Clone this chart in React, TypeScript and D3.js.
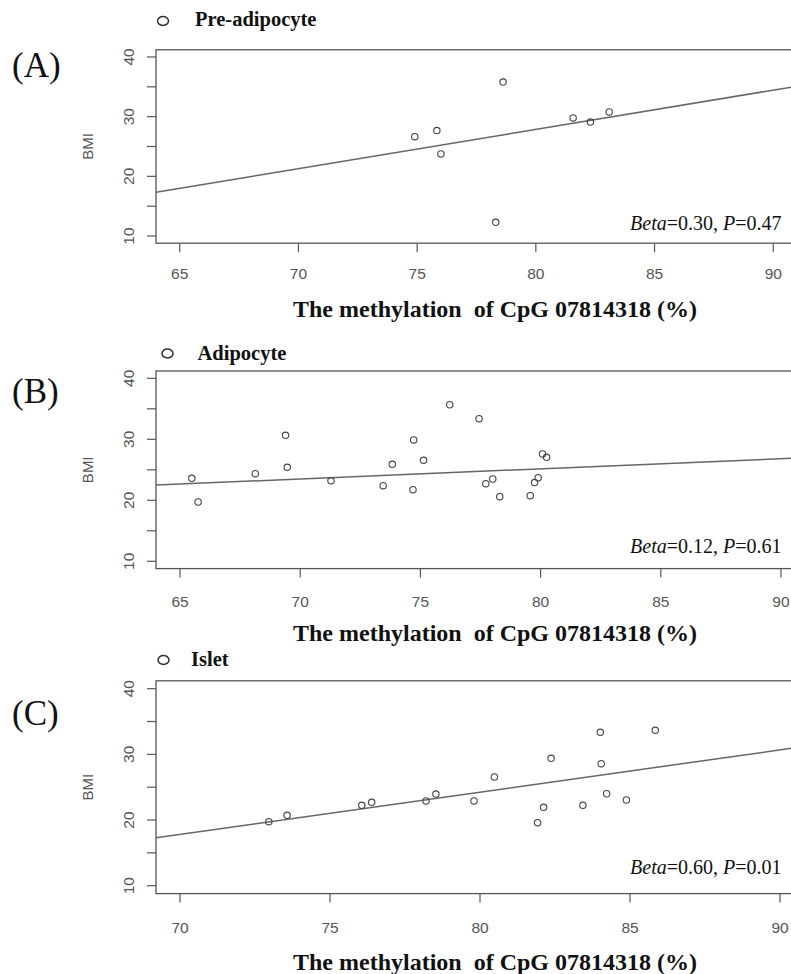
import * as d3 from "d3";

// methylation (%) and BMI
const preAdipocyteMeth = [74.9, 75.83, 76.0, 78.62, 78.31, 81.57, 82.3, 83.09];
const preAdipocyteBMI = [26.65, 27.66, 23.75, 35.8, 12.3, 29.78, 29.1, 30.79];

const adipocyteMeth = [65.49, 65.75, 68.13, 69.39, 69.46, 71.28, 73.45, 73.83, 74.72, 75.13, 74.69,
  76.22, 77.44, 77.72, 78.01, 78.3, 79.57, 79.75, 79.9, 80.08, 80.25];
const adipocyteBMI = [23.6, 19.72, 24.36, 30.66, 25.4, 23.2, 22.4, 25.9, 29.9, 26.56, 21.74,
  35.67, 33.38, 22.72, 23.49, 20.6, 20.75, 22.9, 23.7, 27.6, 27.05];

const isletMeth = [72.96, 73.57, 76.06, 76.39, 78.2, 78.53, 79.8, 80.48, 81.92, 82.12, 82.37,
  83.43, 84.01, 84.04, 84.22, 84.88, 85.84];
const isletBMI = [19.75, 20.72, 22.24, 22.7, 22.9, 23.96, 22.9, 26.55, 19.6, 21.94, 29.4,
  22.24, 33.36, 28.58, 24.0, 23.05, 33.66];

const panelTags = ["(A)", "(B)", "(C)"];
const cellNames = ["Pre-adipocyte", "Adipocyte", "Islet"];
const fitIntercepts = [-24.77, 11.88, -27.28];
const fitSlopes = [0.658, 0.166, 0.644];
const betas = ["0.30", "0.12", "0.60"];
const pValues = ["0.47", "0.61", "0.01"];

const xTicksByPanel = [
  [65, 70, 75, 80, 85, 90],
  [65, 70, 75, 80, 85, 90],
  [70, 75, 80, 85, 90],
];
const xDomains = [[64, 91], [64, 91], [69.2, 90.8]];
const yTicks = [10, 15, 20, 25, 30, 35, 40];
const yTickLabels = [10, 20, 30, 40];
const xTitle = "The methylation  of CpG 07814318 (%)";

const meths = [preAdipocyteMeth, adipocyteMeth, isletMeth];
const bmis = [preAdipocyteBMI, adipocyteBMI, isletBMI];

// pixel layout of each panel (the plot boxes run past the right edge, as in the figure)
const layout = [
  { left: 156, right: 797, top: 49.8, bottom: 243.2, legendY: 21, legendX: 163, nameX: 195, nameY: 26,
    tagY: 77, annY: 230, tickLabY: 278.5, titleY: 316.5 },
  { left: 156, right: 805, top: 371, bottom: 568.6, legendY: 353.5, legendX: 167.5, nameX: 197.5, nameY: 359.5,
    tagY: 403, annY: 553, tickLabY: 606.5, titleY: 641 },
  { left: 156, right: 804, top: 680.8, bottom: 893.6, legendY: 660, legendX: 163.5, nameX: 191, nameY: 665.5,
    tagY: 725, annY: 874, tickLabY: 933, titleY: 969.5 },
];

const serif = "'Liberation Serif', 'Times New Roman', serif";
const sans = "'Liberation Sans', Arial, sans-serif";
const ink = "#555";

function Panel({ i }: { i: number }) {
  const L = layout[i];
  const x = d3.scaleLinear().domain(xDomains[i]).range([L.left, L.right]);
  const y = d3.scaleLinear().domain([8.8, 41.2]).range([L.bottom, L.top]);
  const [x0, x1] = xDomains[i];
  const fit = d3.line<number>()
    .x((d) => x(d))
    .y((d) => y(fitIntercepts[i] + fitSlopes[i] * d));
  const clipId = `clip-${i}`;
  const yMid = (y(10) + y(40)) / 2;

  return (
    <g>
      <defs>
        <clipPath id={clipId}>
          <rect x={L.left} y={L.top} width={L.right - L.left} height={L.bottom - L.top} />
        </clipPath>
      </defs>

      {/* legend */}
      <ellipse cx={L.legendX} cy={L.legendY} rx={5.5} ry={4.5} fill="none" stroke="#333" strokeWidth={1.5} />
      <text x={L.nameX} y={L.nameY} fontFamily={serif} fontWeight="bold" fontSize={20.5} fill="#111">
        {cellNames[i]}
      </text>

      {/* panel tag */}
      <text x={12} y={L.tagY} fontFamily={serif} fontSize={35} fill="#111">{panelTags[i]}</text>

      {/* box */}
      <rect x={L.left} y={L.top} width={L.right - L.left} height={L.bottom - L.top}
        fill="none" stroke={ink} strokeWidth={1.3} />

      {/* x axis */}
      {xTicksByPanel[i].map((t) => (
        <g key={`xt${t}`}>
          <line x1={x(t)} x2={x(t)} y1={L.bottom} y2={L.bottom + 9} stroke={ink} strokeWidth={1.2} />
          <text x={x(t)} y={L.tickLabY} textAnchor="middle" fontFamily={sans} fontSize={15.5} fill={ink}>{t}</text>
        </g>
      ))}

      {/* y axis */}
      {yTicks.map((t) => (
        <line key={`yt${t}`} x1={L.left} x2={L.left - 9} y1={y(t)} y2={y(t)} stroke={ink} strokeWidth={1.2} />
      ))}
      {yTickLabels.map((t) => (
        <text key={`yl${t}`} transform={`translate(133.5,${y(t)}) rotate(-90)`} textAnchor="middle"
          fontFamily={sans} fontSize={15.5} fill={ink}>{t}</text>
      ))}
      <text transform={`translate(93,${yMid}) rotate(-90)`} textAnchor="middle" fontFamily={sans}
        fontSize={15} fill={ink}>BMI</text>

      {/* regression line and points */}
      <g clipPath={`url(#${clipId})`}>
        <path d={fit([x0, x1]) ?? ""} fill="none" stroke="#666" strokeWidth={1.5} />
        {meths[i].map((m, k) => (
          <circle key={k} cx={x(m)} cy={y(bmis[i][k])} r={3.2} fill="none" stroke="#444" strokeWidth={1.1} />
        ))}
      </g>

      {/* annotation */}
      <text x={781.5} y={L.annY} textAnchor="end" fontFamily={serif} fontSize={20} fill="#111">
        <tspan fontStyle="italic">Beta</tspan>={betas[i]}, <tspan fontStyle="italic">P</tspan>={pValues[i]}
      </text>

      {/* x title */}
      <text x={293} y={L.titleY} fontFamily={serif} fontWeight="bold" fontSize={24} fill="#111"
        style={{ whiteSpace: "pre" }}>{xTitle}</text>
    </g>
  );
}

export default function App() {
  return (
    <svg width={791} height={974} style={{ position: "absolute", left: 0, top: 0, background: "#fff" }}>
      <rect width={791} height={974} fill="#fff" />
      {[0, 1, 2].map((i) => <Panel key={i} i={i} />)}
    </svg>
  );
}
